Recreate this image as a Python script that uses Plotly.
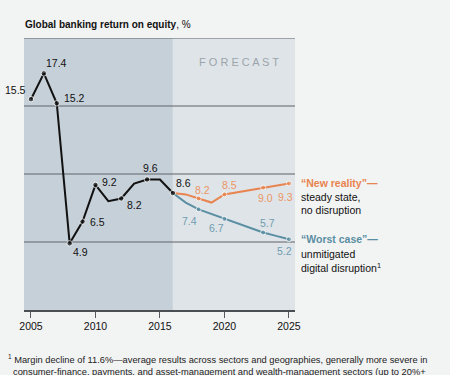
import plotly.graph_objects as go

# ---------------- data ----------------
hist_years = list(range(2005, 2017))
hist_roe = [15.5, 17.4, 15.2, 4.9, 6.5, 9.2, 8.0, 8.2, 9.3, 9.6, 9.6, 8.6]
hist_marked = [2005, 2006, 2007, 2008, 2009, 2010, 2012, 2014, 2016]

fc_years = list(range(2016, 2026))
new_reality = [8.6, 8.5, 8.2, 7.9, 8.5, 8.65, 8.8, 9.0, 9.15, 9.3]
worst_case = [8.6, 7.9, 7.4, 7.05, 6.7, 6.35, 6.0, 5.7, 5.45, 5.2]
fc_marked = [2018, 2020, 2023, 2025]

x_ticks = [2005, 2010, 2015, 2020, 2025]
y_grid = [5, 10, 15, 20]
forecast_start = 2016

title_bold = "Global banking return on equity"
title_rest = ", %"
forecast_label = "F O R E C A S T"
new_reality_text = ["“New reality”—", "steady state,", "no disruption"]
worst_case_text = ["“Worst case”—", "unmitigated", "digital disruption<sup>1</sup>"]
footnote_lines = [
    "<sup>1</sup> Margin decline of 11.6%—average results across sectors and geographies, generally more severe in",
    "consumer-finance, payments, and asset-management and wealth-management sectors (up to 20%+",
]

# ---------------- styles ----------------
FONT = "Liberation Sans, Arial, sans-serif"
BLACK = "#111111"
ORANGE = "#e8844f"
ORANGE_TXT = "#eb9765"
TEAL = "#5a8ea2"
TEAL_TXT = "#6f9db0"
X0, X1 = 2004.46, 2025.47

fig = go.Figure()


def sizes(years, marked, s=5):
    return [s if y in marked else 0 for y in years]


fig.add_trace(go.Scatter(x=fc_years, y=new_reality, mode="lines+markers",
                         line=dict(color=ORANGE, width=2),
                         marker=dict(color=ORANGE, size=sizes(fc_years, fc_marked)),
                         hoverinfo="skip", cliponaxis=False))
fig.add_trace(go.Scatter(x=fc_years, y=worst_case, mode="lines+markers",
                         line=dict(color=TEAL, width=2),
                         marker=dict(color=TEAL, size=sizes(fc_years, fc_marked)),
                         hoverinfo="skip", cliponaxis=False))
fig.add_trace(go.Scatter(x=hist_years, y=hist_roe, mode="lines+markers",
                         line=dict(color=BLACK, width=2),
                         marker=dict(color=BLACK, size=sizes(hist_years, hist_marked, 5.5)),
                         hoverinfo="skip", cliponaxis=False))

shapes = [
    dict(type="rect", xref="x", yref="paper", x0=X0, x1=forecast_start, y0=0, y1=1,
         fillcolor="#c6d0d8", line=dict(width=0), layer="below"),
    dict(type="rect", xref="x", yref="paper", x0=forecast_start, x1=X1, y0=0, y1=1,
         fillcolor="#dfe4e8", line=dict(width=0), layer="below"),
]
for g in y_grid:
    shapes.append(dict(type="line", xref="paper", yref="y", x0=0, x1=1, y0=g, y1=g,
                       line=dict(color="#5e6368", width=1), layer="below"))

annotations = []


def lab(x, y, text, color, xs, ys, xa="center"):
    annotations.append(dict(x=x, y=y, xref="x", yref="y", text=text, showarrow=False,
                            xanchor=xa, yanchor="middle", xshift=xs, yshift=ys,
                            font=dict(family=FONT, size=10.5, color=color)))


# historical labels (year -> offset)
hist_offsets = {2005: (-3, 9, "right"), 2006: (0, 10, "left"), 2007: (5, 5, "left"),
                2008: (1, -9, "left"), 2009: (5, 0, "left"), 2010: (5, 3, "left"),
                2012: (4, -7, "left"), 2014: (3, 11, "center"), 2016: (1, 10, "left")}
for yr, (xs, ys, xa) in hist_offsets.items():
    v = hist_roe[hist_years.index(yr)]
    lab(yr, v, f"{v:.1f}", BLACK, xs, ys, xa)

nr_offsets = {2018: (4, 8), 2020: (5, 9), 2023: (2, -10), 2025: (-3, -13)}
for yr, (xs, ys) in nr_offsets.items():
    v = new_reality[fc_years.index(yr)]
    lab(yr, v, f"{v:.1f}", ORANGE_TXT, xs, ys)

wc_offsets = {2018: (-9, -12), 2020: (-8, -9), 2023: (4, 9), 2025: (-4, -12)}
for yr, (xs, ys) in wc_offsets.items():
    v = worst_case[fc_years.index(yr)]
    lab(yr, v, f"{v:.1f}", TEAL_TXT, xs, ys)

# FORECAST
annotations.append(dict(x=2021.12, y=18.24, xref="x", yref="y", text=forecast_label,
                        showarrow=False, font=dict(family=FONT, size=11, color="#9ba4ab")))


def px_ann(xpx, ypx, text, size, color, bold=False):
    annotations.append(dict(x=(xpx - 24) / 271, y=(310 - ypx) / 272, xref="paper", yref="paper",
                            text=f"<b>{text}</b>" if bold else text, showarrow=False,
                            xanchor="left", yanchor="middle",
                            font=dict(family=FONT, size=size, color=color)))


px_ann(23, 25, f"<b>{title_bold}</b>{title_rest}", 10, BLACK)

for i, t in enumerate(new_reality_text):
    px_ann(299, 182.7 + i * 13.8, t, 10.5, ORANGE if i == 0 else BLACK, bold=(i == 0))
for i, t in enumerate(worst_case_text):
    px_ann(299, 239.5 + i * 14.2, t, 10.5, TEAL if i == 0 else BLACK, bold=(i == 0))

px_ann(6, 359, footnote_lines[0], 9.3, "#222222")
px_ann(11, 372, footnote_lines[1], 9.3, "#222222")

fig.update_layout(
    width=450, height=375,
    margin=dict(l=24, r=155, t=38, b=65),
    paper_bgcolor="#f2f3f3", plot_bgcolor="rgba(0,0,0,0)",
    showlegend=False,
    shapes=shapes, annotations=annotations,
    font=dict(family=FONT, color=BLACK),
    xaxis=dict(range=[X0, X1], tickvals=x_ticks, ticks="outside", ticklen=6,
               tickcolor="#555a5e", tickwidth=1, showline=True, linecolor="#4a4f53",
               linewidth=1.5, showgrid=False, zeroline=False,
               tickfont=dict(family=FONT, size=10.5, color=BLACK), fixedrange=True),
    yaxis=dict(range=[0, 20], showticklabels=False, showgrid=False, zeroline=False,
               ticks="", fixedrange=True),
)

fig.write_html("out.html", config={"displayModeBar": False},
               post_script="document.body.style.margin='0px';document.body.style.overflow='hidden';"
                           "document.body.style.background='#f2f3f3';")
